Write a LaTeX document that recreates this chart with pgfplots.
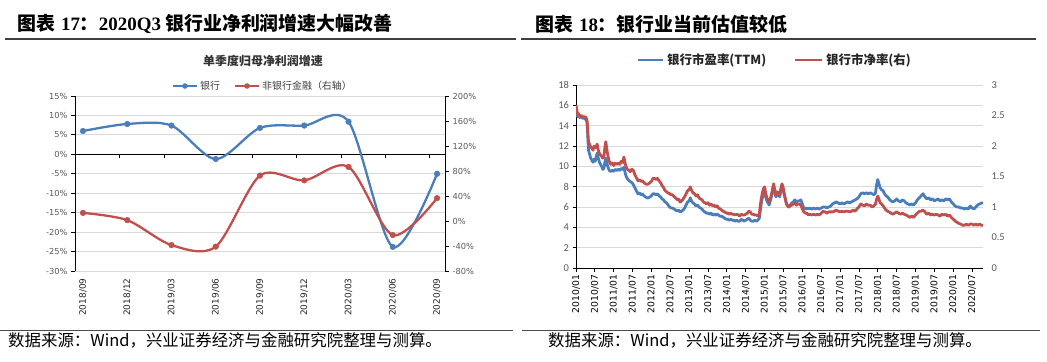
\documentclass[border=0pt]{standalone}
\usepackage{pgfplots}
\pgfplotsset{compat=1.18}
\usepackage{fontspec}
\setmainfont{Carlito}
\newfontfamily\dv{DejaVu Sans}
\newfontfamily\cjk{Noto Sans CJK SC}
\newfontfamily\lser{Liberation Serif}
\definecolor{blueC}{RGB}{74,126,187}
\definecolor{redC}{RGB}{192,80,77}
\definecolor{gridC}{RGB}{217,217,217}
\definecolor{labC}{RGB}{89,89,89}
\begin{document}
\begin{tikzpicture}[x=1bp,y=1bp]
\useasboundingbox (0,0) rectangle (1047,361);
% titles
\node[anchor=west,inner sep=0] at (17,337) {\fontsize{19}{20}\selectfont\cjk\bfseries 图表\hspace{6bp}{\lser\bfseries 17}：{\lser\bfseries 2020Q3} 银行业净利润增速大幅改善};
\node[anchor=west,inner sep=0] at (535,337) {\fontsize{19}{20}\selectfont\cjk\bfseries 图表\hspace{6bp}{\lser\bfseries 18}：银行业当前估值较低};
\draw[black!75,line width=1.2bp] (5,322) -- (516,322);
\draw[black!75,line width=1.2bp] (521,322) -- (1036,322);
% footers
\draw[black!70,line width=1bp] (0,31) -- (513,31);
\draw[black!70,line width=1bp] (522,31) -- (1040,31);
\node[anchor=west,inner sep=0] at (8,21) {\fontsize{16.5}{18}\selectfont\cjk 数据来源：Wind，兴业证券经济与金融研究院整理与测算。};
\node[anchor=west,inner sep=0] at (548,21) {\fontsize{16.5}{18}\selectfont\cjk 数据来源：Wind，兴业证券经济与金融研究院整理与测算。};
% left subtitle and legend
\node[inner sep=0,text=black!80] at (263,300) {\fontsize{12}{13}\selectfont\cjk\bfseries 单季度归母净利润增速};
\draw[blueC,line width=2.2bp] (173,275) -- (197,275);
\fill[blueC] (185,275) circle (2.8);
\node[anchor=west,inner sep=0,text=black!75] at (200,275) {\fontsize{10}{11}\selectfont\cjk 银行};
\draw[redC,line width=2.2bp] (235,275) -- (259,275);
\fill[redC] (247,275) circle (2.8);
\node[anchor=west,inner sep=0,text=black!75] at (262,275) {\fontsize{10}{11}\selectfont\cjk 非银行金融（右轴）};
% right legend
\draw[blueC,line width=2.8bp] (638,301) -- (663,301);
\node[anchor=west,inner sep=0,text=black!85] at (667,301) {\fontsize{12.5}{13}\selectfont\cjk\bfseries 银行市盈率(TTM)};
\draw[redC,line width=2.8bp] (795,301) -- (822,301);
\node[anchor=west,inner sep=0,text=black!85] at (826,301) {\fontsize{12.5}{13}\selectfont\cjk\bfseries 银行市净率(右)};

% ===== left panel, left axis (banks)
\begin{axis}[
  at={(75bp,90bp)}, anchor=south west, scale only axis,
  width=370bp, height=175bp,
  xmin=-0.18, xmax=8.18, ymin=-30, ymax=15,
  ytick={-30,-25,-20,-15,-10,-5,0,5,10,15},
  yticklabels={-30\%,-25\%,-20\%,-15\%,-10\%,-5\%,0\%,5\%,10\%,15\%},
  xtick={0,1,2,3,4,5,6,7,8},
  xticklabels={2018/09,2018/12,2019/03,2019/06,2019/09,2019/12,2020/03,2020/06,2020/09},
  xticklabel style={rotate=90, anchor=east, font=\dv\fontsize{9}{10}\selectfont, text=black!85},
  x tick style={draw=none},
  ytick pos=left, xtick pos=bottom,
  tick align=outside, major tick length=4bp,
  y tick style={black, line width=0.8bp},
  axis line style={draw=none},
  ymajorgrids, grid style={gridC, line width=0.8bp},
  yticklabel style={font=\dv\fontsize{8.3}{9}\selectfont, text=labC},
  clip=false,
]
\draw[black,line width=0.8bp] (rel axis cs:0,0) -- (rel axis cs:0,1);
\draw[black,line width=0.8bp] (axis cs:-0.18,0) -- (axis cs:8.18,0);
\draw[black,line width=0.8bp]
  (axis cs:0.83,0) -- ([yshift=-4bp]axis cs:0.83,0)
  (axis cs:1.83,0) -- ([yshift=-4bp]axis cs:1.83,0)
  (axis cs:2.83,0) -- ([yshift=-4bp]axis cs:2.83,0)
  (axis cs:3.83,0) -- ([yshift=-4bp]axis cs:3.83,0)
  (axis cs:4.83,0) -- ([yshift=-4bp]axis cs:4.83,0)
  (axis cs:5.83,0) -- ([yshift=-4bp]axis cs:5.83,0)
  (axis cs:6.83,0) -- ([yshift=-4bp]axis cs:6.83,0)
  (axis cs:7.83,0) -- ([yshift=-4bp]axis cs:7.83,0);
\addplot[color=blueC, line width=2.3bp, smooth, tension=0.5, mark=*, mark size=2.8bp,
  mark options={fill=blueC, draw=blueC, line width=0.5bp}] coordinates {
  (0,6.0) (1,7.8) (2,7.4) (3,-1.2) (4,6.8) (5,7.4) (6,8.4) (7,-23.8) (8,-5.0)};
\end{axis}
% ===== left panel, right axis (non-bank)
\begin{axis}[
  at={(75bp,90bp)}, anchor=south west, scale only axis,
  width=370bp, height=175bp,
  xmin=-0.18, xmax=8.18, ymin=-80, ymax=200,
  ytick={-80,-40,0,40,80,120,160,200},
  yticklabels={-80\%,-40\%,0\%,40\%,80\%,120\%,160\%,200\%},
  axis x line=none, axis y line*=right,
  axis line style={-, black, line width=0.8bp},
  tick align=outside, major tick length=4bp,
  y tick style={black, line width=0.8bp},
  yticklabel style={font=\dv\fontsize{8.3}{9}\selectfont, text=labC},
  clip=false,
]
\addplot[color=redC, line width=2.3bp, smooth, tension=0.5, mark=*, mark size=2.8bp,
  mark options={fill=redC, draw=redC, line width=0.5bp}] coordinates {
  (0,13.0) (1,1.4) (2,-38.5) (3,-41.0) (4,72.7) (5,65.0) (6,86.5) (7,-22.5) (8,36.6)};
\end{axis}

% ===== right panel, PE
\begin{axis}[
  at={(576bp,93bp)}, anchor=south west, scale only axis,
  width=407bp, height=183bp,
  xmin=2010, xmax=2020.79, ymin=0, ymax=18,
  ytick={0,2,4,6,8,10,12,14,16,18},
  xtick={2010,2010.5,2011,2011.5,2012,2012.5,2013,2013.5,2014,2014.5,2015,2015.5,2016,2016.5,2017,2017.5,2018,2018.5,2019,2019.5,2020,2020.5},
  xticklabels={2010/01,2010/07,2011/01,2011/07,2012/01,2012/07,2013/01,2013/07,2014/01,2014/07,2015/01,2015/07,2016/01,2016/07,2017/01,2017/07,2018/01,2018/07,2019/01,2019/07,2020/01,2020/07},
  xticklabel style={rotate=90, anchor=east, font=\dv\fontsize{9.3}{10}\selectfont, text=black},
  axis x line*=bottom, axis y line*=left,
  axis line style={-, black, line width=0.8bp},
  tick align=outside, major tick length=3.5bp,
  tick style={black, line width=0.8bp},
  ymajorgrids, grid style={gridC, line width=0.8bp},
  yticklabel style={font=\fontsize{10.5}{11}\selectfont, text=labC},
  /pgf/number format/assume math mode=true,
]
\addplot[color=blueC, line width=2.8bp, line join=round] coordinates {
(2010.00,15.6) (2010.02,15.2) (2010.04,14.9) (2010.07,15.0) (2010.10,14.8) (2010.14,14.9) (2010.18,14.7) (2010.22,14.8) (2010.26,14.6) (2010.29,14.4)
(2010.31,13.2) (2010.33,11.6) (2010.36,11.2) (2010.39,10.8) (2010.42,10.6) (2010.45,10.4) (2010.48,10.7) (2010.51,10.5) (2010.54,11.0) (2010.56,11.3)
(2010.59,10.8) (2010.62,10.4) (2010.65,10.2) (2010.68,10.0) (2010.71,9.7) (2010.74,9.8) (2010.77,10.5) (2010.79,10.8) (2010.82,10.3) (2010.85,9.9)
(2010.88,9.6) (2010.92,9.5) (2010.96,9.6) (2011.00,9.5) (2011.04,9.7) (2011.08,9.6) (2011.12,9.7) (2011.16,9.6) (2011.20,9.8) (2011.24,9.7)
(2011.27,9.9) (2011.30,9.4) (2011.33,9.0) (2011.36,8.8) (2011.40,8.6) (2011.44,8.5) (2011.48,8.4) (2011.52,8.2) (2011.56,7.9) (2011.60,7.6)
(2011.64,7.3) (2011.68,7.4) (2011.72,7.2) (2011.76,7.3) (2011.80,7.1) (2011.84,7.0) (2011.88,6.9) (2011.92,6.9) (2011.96,7.0) (2012.00,7.1)
(2012.04,7.3) (2012.08,7.3) (2012.12,7.2) (2012.16,7.3) (2012.20,7.1) (2012.24,7.0) (2012.28,6.8) (2012.32,6.7) (2012.36,6.5) (2012.40,6.4)
(2012.44,6.2) (2012.48,6.0) (2012.52,5.9) (2012.56,5.9) (2012.60,5.8) (2012.64,5.7) (2012.68,5.6) (2012.72,5.7) (2012.76,5.5) (2012.80,5.6)
(2012.84,5.7) (2012.88,5.9) (2012.92,6.2) (2012.96,6.5) (2013.00,6.6) (2013.03,6.9) (2013.06,6.6) (2013.10,6.4) (2013.14,6.3) (2013.18,6.1)
(2013.22,6.2) (2013.26,6.0) (2013.30,5.9) (2013.34,5.8) (2013.38,5.6) (2013.42,5.5) (2013.46,5.4) (2013.50,5.4) (2013.54,5.3) (2013.58,5.4)
(2013.62,5.2) (2013.66,5.3) (2013.70,5.2) (2013.74,5.3) (2013.78,5.2) (2013.82,5.1) (2013.86,5.1) (2013.90,5.0) (2013.94,4.9) (2013.98,4.8)
(2014.02,4.8) (2014.06,4.7) (2014.10,4.8) (2014.14,4.7) (2014.18,4.7) (2014.22,4.6) (2014.26,4.7) (2014.30,4.6) (2014.34,4.6) (2014.38,4.8)
(2014.42,4.7) (2014.46,4.6) (2014.50,4.7) (2014.54,4.8) (2014.58,4.9) (2014.62,4.7) (2014.66,4.6) (2014.70,4.6) (2014.74,4.7) (2014.78,4.6)
(2014.82,4.7) (2014.86,4.9) (2014.88,5.5) (2014.91,6.3) (2014.94,6.9) (2014.97,7.3) (2015.00,7.6) (2015.03,7.0) (2015.06,6.6) (2015.09,6.4)
(2015.12,6.2) (2015.15,6.6) (2015.18,7.0) (2015.21,7.6) (2015.24,8.0) (2015.27,7.4) (2015.30,7.0) (2015.33,7.3) (2015.36,7.2) (2015.40,7.0)
(2015.43,7.6) (2015.46,8.2) (2015.49,7.8) (2015.52,7.2) (2015.55,6.8) (2015.58,6.3) (2015.61,6.1) (2015.64,6.0) (2015.68,6.2) (2015.72,6.4)
(2015.76,6.5) (2015.80,6.7) (2015.84,6.5) (2015.88,6.6) (2015.92,6.6) (2015.96,6.7) (2016.00,6.3) (2016.04,5.9) (2016.08,5.8) (2016.12,5.9)
(2016.16,5.8) (2016.20,5.9) (2016.25,5.8) (2016.30,5.9) (2016.35,5.8) (2016.40,5.9) (2016.45,5.8) (2016.50,5.9) (2016.55,6.0) (2016.60,6.0)
(2016.65,5.9) (2016.70,6.0) (2016.75,6.1) (2016.80,6.3) (2016.85,6.4) (2016.90,6.5) (2016.95,6.4) (2017.00,6.3) (2017.05,6.4) (2017.10,6.3)
(2017.15,6.4) (2017.20,6.5) (2017.25,6.4) (2017.30,6.5) (2017.35,6.6) (2017.40,6.7) (2017.45,6.8) (2017.50,7.0) (2017.55,7.3) (2017.60,7.4)
(2017.65,7.3) (2017.70,7.4) (2017.75,7.3) (2017.80,7.4) (2017.85,7.3) (2017.90,7.2) (2017.94,7.4) (2017.97,8.2) (2018.00,8.7) (2018.03,8.3)
(2018.06,7.9) (2018.10,7.7) (2018.14,7.6) (2018.18,7.3) (2018.22,7.1) (2018.26,7.0) (2018.30,6.8) (2018.35,6.6) (2018.40,6.5) (2018.45,6.6)
(2018.50,6.8) (2018.55,6.6) (2018.60,6.5) (2018.65,6.7) (2018.70,6.6) (2018.75,6.4) (2018.80,6.3) (2018.85,6.2) (2018.90,6.3) (2018.95,6.2)
(2019.00,6.4) (2019.05,6.7) (2019.10,6.9) (2019.15,7.1) (2019.20,7.3) (2019.25,7.0) (2019.30,6.8) (2019.35,6.9) (2019.40,6.7) (2019.45,6.8)
(2019.50,6.6) (2019.55,6.7) (2019.60,6.8) (2019.65,6.6) (2019.70,6.7) (2019.75,6.6) (2019.80,6.8) (2019.85,6.7) (2019.90,6.8) (2019.95,6.5)
(2020.00,6.3) (2020.05,6.1) (2020.10,6.0) (2020.15,6.0) (2020.20,5.9) (2020.25,5.9) (2020.30,5.8) (2020.35,5.9) (2020.40,5.8) (2020.45,6.1)
(2020.50,5.9) (2020.55,5.8) (2020.60,6.0) (2020.65,6.2) (2020.70,6.3) (2020.75,6.4) (2020.79,6.4)};
\end{axis}
% ===== right panel, PB (right axis)
\begin{axis}[
  at={(576bp,93bp)}, anchor=south west, scale only axis,
  width=407bp, height=183bp,
  xmin=2010, xmax=2020.79, ymin=0, ymax=3,
  ytick={0,0.5,1,1.5,2,2.5,3},
  yticklabels={0,0.5,1,1.5,2,2.5,3},
  axis x line=none, axis y line*=right,
  axis line style={draw=none},
  major tick length=0pt, y tick style={draw=none},
  yticklabel style={font=\fontsize{10.5}{11}\selectfont, text=labC, xshift=5bp},
]
\addplot[color=redC, line width=2.8bp, line join=round] coordinates {
(2010.00,2.67) (2010.02,2.60) (2010.04,2.52) (2010.07,2.53) (2010.10,2.48) (2010.14,2.50) (2010.18,2.48) (2010.22,2.48) (2010.26,2.47) (2010.29,2.43)
(2010.31,2.27) (2010.33,2.07) (2010.36,2.03) (2010.39,1.98) (2010.42,1.97) (2010.45,1.93) (2010.48,2.00) (2010.51,1.97) (2010.54,2.00) (2010.56,2.03)
(2010.59,1.93) (2010.62,1.88) (2010.65,1.85) (2010.68,1.83) (2010.71,1.80) (2010.74,1.83) (2010.77,2.00) (2010.79,2.07) (2010.82,1.93) (2010.85,1.83)
(2010.88,1.75) (2010.92,1.70) (2010.96,1.72) (2011.00,1.68) (2011.04,1.72) (2011.08,1.70) (2011.12,1.72) (2011.16,1.70) (2011.20,1.75) (2011.24,1.73)
(2011.27,1.82) (2011.30,1.72) (2011.33,1.65) (2011.36,1.62) (2011.40,1.60) (2011.44,1.58) (2011.48,1.62) (2011.52,1.60) (2011.56,1.53) (2011.60,1.48)
(2011.64,1.43) (2011.68,1.45) (2011.72,1.42) (2011.76,1.43) (2011.80,1.40) (2011.84,1.38) (2011.88,1.37) (2011.92,1.38) (2011.96,1.40) (2012.00,1.42)
(2012.04,1.47) (2012.08,1.47) (2012.12,1.45) (2012.16,1.47) (2012.20,1.43) (2012.24,1.40) (2012.28,1.35) (2012.32,1.32) (2012.36,1.27) (2012.40,1.25)
(2012.44,1.23) (2012.48,1.22) (2012.52,1.20) (2012.56,1.20) (2012.60,1.17) (2012.64,1.15) (2012.68,1.12) (2012.72,1.13) (2012.76,1.08) (2012.80,1.10)
(2012.84,1.13) (2012.88,1.17) (2012.92,1.22) (2012.96,1.27) (2013.00,1.28) (2013.03,1.33) (2013.06,1.28) (2013.10,1.23) (2013.14,1.22) (2013.18,1.18)
(2013.22,1.20) (2013.26,1.15) (2013.30,1.13) (2013.34,1.12) (2013.38,1.08) (2013.42,1.07) (2013.46,1.05) (2013.50,1.07) (2013.54,1.03) (2013.58,1.05)
(2013.62,1.02) (2013.66,1.03) (2013.70,1.00) (2013.74,1.02) (2013.78,0.98) (2013.82,0.97) (2013.86,0.95) (2013.90,0.93) (2013.94,0.92) (2013.98,0.90)
(2014.02,0.90) (2014.06,0.88) (2014.10,0.90) (2014.14,0.88) (2014.18,0.88) (2014.22,0.87) (2014.26,0.88) (2014.30,0.87) (2014.34,0.85) (2014.38,0.88)
(2014.42,0.87) (2014.46,0.87) (2014.50,0.88) (2014.54,0.90) (2014.58,0.93) (2014.62,0.92) (2014.66,0.88) (2014.70,0.88) (2014.74,0.87) (2014.78,0.87)
(2014.82,0.85) (2014.86,0.88) (2014.88,1.00) (2014.91,1.13) (2014.94,1.23) (2014.97,1.30) (2015.00,1.33) (2015.03,1.22) (2015.06,1.15) (2015.09,1.12)
(2015.12,1.08) (2015.15,1.13) (2015.18,1.20) (2015.21,1.30) (2015.24,1.38) (2015.27,1.27) (2015.30,1.20) (2015.33,1.25) (2015.36,1.23) (2015.40,1.20)
(2015.43,1.30) (2015.46,1.38) (2015.49,1.32) (2015.52,1.22) (2015.55,1.13) (2015.58,1.05) (2015.61,1.02) (2015.64,1.00) (2015.68,1.02) (2015.72,1.03)
(2015.76,1.05) (2015.80,1.07) (2015.84,1.03) (2015.88,1.05) (2015.92,1.05) (2015.96,1.03) (2016.00,0.97) (2016.04,0.92) (2016.08,0.90) (2016.12,0.90)
(2016.16,0.87) (2016.20,0.88) (2016.25,0.87) (2016.30,0.88) (2016.35,0.87) (2016.40,0.88) (2016.45,0.87) (2016.50,0.90) (2016.55,0.93) (2016.60,0.92)
(2016.65,0.90) (2016.70,0.92) (2016.75,0.92) (2016.80,0.92) (2016.85,0.93) (2016.90,0.95) (2016.95,0.93) (2017.00,0.92) (2017.05,0.93) (2017.10,0.92)
(2017.15,0.93) (2017.20,0.93) (2017.25,0.92) (2017.30,0.93) (2017.35,0.95) (2017.40,0.93) (2017.45,0.97) (2017.50,1.00) (2017.55,1.05) (2017.60,1.03)
(2017.65,1.02) (2017.70,1.05) (2017.75,1.03) (2017.80,1.03) (2017.85,1.00) (2017.90,1.02) (2017.94,1.05) (2017.97,1.13) (2018.00,1.18) (2018.03,1.13)
(2018.06,1.07) (2018.10,1.05) (2018.14,1.02) (2018.18,0.98) (2018.22,0.95) (2018.26,0.93) (2018.30,0.92) (2018.35,0.90) (2018.40,0.88) (2018.45,0.90)
(2018.50,0.92) (2018.55,0.90) (2018.60,0.88) (2018.65,0.90) (2018.70,0.88) (2018.75,0.87) (2018.80,0.85) (2018.85,0.83) (2018.90,0.85) (2018.95,0.83)
(2019.00,0.87) (2019.05,0.90) (2019.10,0.93) (2019.15,0.93) (2019.20,0.95) (2019.25,0.92) (2019.30,0.88) (2019.35,0.90) (2019.40,0.87) (2019.45,0.88)
(2019.50,0.87) (2019.55,0.88) (2019.60,0.87) (2019.65,0.85) (2019.70,0.88) (2019.75,0.87) (2019.80,0.88) (2019.85,0.85) (2019.90,0.87) (2019.95,0.83)
(2020.00,0.80) (2020.05,0.77) (2020.10,0.75) (2020.15,0.73) (2020.20,0.72) (2020.25,0.70) (2020.30,0.70) (2020.35,0.72) (2020.40,0.70) (2020.45,0.72)
(2020.50,0.72) (2020.55,0.70) (2020.60,0.72) (2020.65,0.70) (2020.70,0.72) (2020.75,0.70) (2020.79,0.70)};
\end{axis}
\end{tikzpicture}
\end{document}
